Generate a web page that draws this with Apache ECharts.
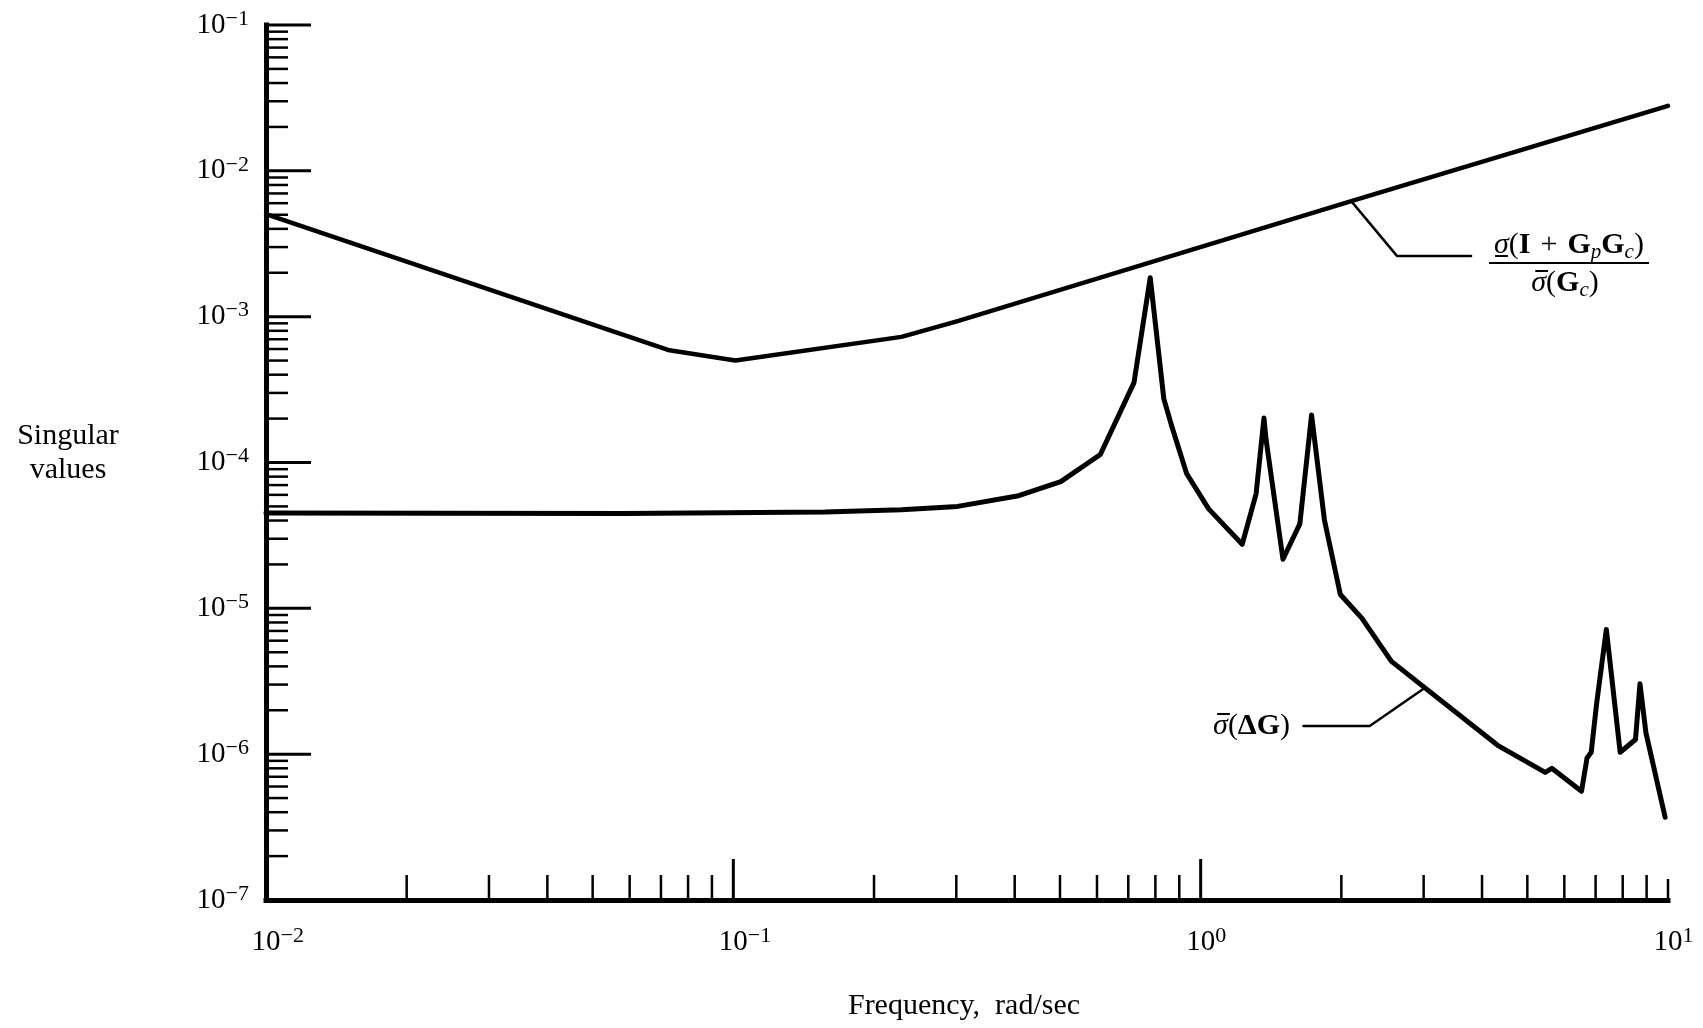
<!DOCTYPE html>
<html>
<head>
<meta charset="utf-8">
<script src="https://cdn.jsdelivr.net/npm/echarts@6/dist/echarts.min.js"></script>
<style>
html,body{margin:0;padding:0;background:#fff;}
#c{width:1703px;height:1028px;}
</style>
</head>
<body>
<div id="c"></div>
<script>
// ---------- data ----------
// upper curve: sigma_min(I + Gp Gc) / sigma_max(Gc)
const freqUpper  = [0.01, 0.073, 0.101, 0.229, 0.302, 2.1, 10];
const sigmaUpper = [5.05e-3, 5.88e-4, 5.0e-4, 7.27e-4, 9.33e-4, 6.2e-3, 2.79e-2];

// lower curve: sigma_max(Delta G)
const freqLower  = [0.01, 0.0584, 0.157, 0.229, 0.302, 0.405, 0.502, 0.61, 0.72, 0.78,
                    0.834, 0.867, 0.933, 1.04, 1.227, 1.314, 1.366, 1.38, 1.50, 1.63,
                    1.727, 1.84, 1.99, 2.21, 2.56, 4.32, 5.46, 5.64, 6.53, 6.71,
                    6.85, 7.03, 7.38, 7.90, 8.52, 8.71, 8.97, 9.86];
const sigmaLower = [4.5e-5, 4.47e-5, 4.58e-5, 4.75e-5, 5.0e-5, 5.89e-5, 7.39e-5, 1.135e-4, 3.53e-4, 1.85e-3,
                    2.73e-4, 1.78e-4, 8.4e-5, 4.81e-5, 2.75e-5, 6.1e-5, 2.02e-4, 1.44e-4, 2.17e-5, 3.79e-5,
                    2.12e-4, 4.04e-5, 1.245e-5, 8.6e-6, 4.33e-6, 1.15e-6, 7.5e-7, 8.0e-7, 5.56e-7, 9.4e-7,
                    1.03e-6, 2.18e-6, 7.17e-6, 1.03e-6, 1.26e-6, 3.04e-6, 1.40e-6, 3.69e-7];

// leader lines (curve point, elbow, end)
const upperLeaderF = [2.1, 2.63, 3.79];
const upperLeaderS = [6.2e-3, 2.61e-3, 2.61e-3];
const lowerLeaderF = [3.02, 2.30, 1.66];
const lowerLeaderS = [2.85e-6, 1.56e-6, 1.56e-6];

// axes
const xMin = 0.01, xMax = 10;
const yMin = 1e-7, yMax = 1e-1;
const xDecades = [0.01, 0.1, 1];
const yDecades = [1e-7, 1e-6, 1e-5, 1e-4, 1e-3, 1e-2];
const minorMultipliers = [2, 3, 4, 5, 6, 7, 8, 9];
const xMajorTicks = [0.1, 1];
const xEndTicks = [10];
const yMajorTicks = [1e-6, 1e-5, 1e-4, 1e-3, 1e-2, 1e-1];

// texts
const yTitle = 'Singular\nvalues';
const xTitle = 'Frequency,  rad/sec';
const numeratorTokens = [['i', '\u03c3'], ['r', '('], ['b', 'I'], ['r', '\u2004+\u2004'], ['b', 'G'], ['sb', 'p'], ['b', 'G'], ['sb', 'c'], ['r', ')']];
const denominatorTokens = [['i', '\u03c3'], ['r', '('], ['b', 'G'], ['sb', 'c'], ['r', ')']];
const lowerLabelTokens = [['i', '\u03c3'], ['r', '('], ['b', '\u0394G'], ['r', ')']];

const xMinorTicks = [];
xDecades.forEach(d => minorMultipliers.forEach(m => xMinorTicks.push(d * m)));
const yMinorTicks = [];
yDecades.forEach(d => minorMultipliers.forEach(m => yMinorTicks.push(d * m)));

// ---------- styling ----------
const FONT = "'Liberation Serif','DejaVu Serif','Times New Roman',serif";
const INK = '#000';

const expStr = v => {
  const e = Math.round(Math.log10(v));
  return e < 0 ? '\u2212' + (-e) : String(e);
};

const labelRich = {
  b: {fontFamily: FONT, fontSize: 29, lineHeight: 34, color: INK},
  s: {fontFamily: FONT, fontSize: 22, lineHeight: 24, verticalAlign: 'top', color: INK},
  h: {fontFamily: FONT, fontSize: 22, lineHeight: 24, verticalAlign: 'top', color: 'rgba(0,0,0,0)'}
};

function tickSeries(values, axis, len, width) {
  return {
    type: 'custom',
    silent: true,
    clip: false,
    z: 3,
    data: values.map(v => axis === 'x' ? [v, yMin] : [xMin, v]),
    renderItem: function (params, api) {
      const p = api.coord([api.value(0), api.value(1)]);
      const shape = axis === 'x'
        ? {x1: p[0], y1: p[1], x2: p[0], y2: p[1] - len}
        : {x1: p[0], y1: p[1], x2: p[0] + len, y2: p[1]};
      return {type: 'line', shape: shape, style: {stroke: INK, lineWidth: width, lineCap: 'butt'}};
    }
  };
}

function curve(fs, ss, width) {
  return {
    type: 'line',
    data: fs.map((f, i) => [f, ss[i]]),
    showSymbol: false,
    symbol: 'none',
    silent: true,
    z: 4,
    lineStyle: {color: INK, width: width, cap: 'round', join: 'round'}
  };
}

// annotation typography
const ANN = 30, SUB = 21;
const annFonts = {
  i: 'italic ' + ANN + 'px ' + FONT,
  r: ANN + 'px ' + FONT,
  b: 'bold ' + ANN + 'px ' + FONT,
  sb: 'italic ' + SUB + 'px ' + FONT
};
const annRich = {
  i: {fontFamily: FONT, fontSize: ANN, fontStyle: 'italic', lineHeight: 36, color: INK},
  r: {fontFamily: FONT, fontSize: ANN, lineHeight: 36, color: INK},
  b: {fontFamily: FONT, fontSize: ANN, fontWeight: 'bold', lineHeight: 36, color: INK},
  sb: {fontFamily: FONT, fontSize: SUB, fontStyle: 'italic', lineHeight: 20, verticalAlign: 'bottom', color: INK}
};
const mctx = document.createElement('canvas').getContext('2d');
function tokWidth(t) { mctx.font = annFonts[t[0]]; return mctx.measureText(t[1]).width; }
function richStr(tokens) { return tokens.map(t => '{' + t[0] + '|' + t[1] + '}').join(''); }
function totalWidth(tokens) { return tokens.reduce((s, t) => s + tokWidth(t), 0); }

// builds text + bar over/under the first glyph (sigma)
function annotation(tokens, anchorX, cy, anchor, barDy) {
  const W = totalWidth(tokens);
  const x0 = anchor === 'center' ? anchorX - W / 2 : (anchor === 'right' ? anchorX - W : anchorX);
  const wSig = tokWidth(tokens[0]);
  const slant = barDy < 0 ? 3 : 0;
  return [
    {type: 'text', x: x0, y: cy, silent: true,
     style: {text: richStr(tokens), rich: annRich, align: 'left', verticalAlign: 'middle'}},
    {type: 'line', silent: true,
     shape: {x1: x0 + 1 + slant, y1: cy + barDy, x2: x0 + wSig - 1 + slant, y2: cy + barDy},
     style: {stroke: INK, lineWidth: 2}}
  ];
}

const graphics = [
  {type: 'text', x: 68, y: 453, silent: true,
   style: {text: yTitle, font: '30px ' + FONT, align: 'center', verticalAlign: 'middle', lineHeight: 34, fill: INK}},
  {type: 'text', x: 964, y: 1006, silent: true,
   style: {text: xTitle, font: '30px ' + FONT, align: 'center', verticalAlign: 'middle', fill: INK}},
  {type: 'line', silent: true, shape: {x1: 1489, y1: 263, x2: 1649, y2: 263}, style: {stroke: INK, lineWidth: 2}}
]
  .concat(annotation(numeratorTokens, 1569, 245, 'center', 11))
  .concat(annotation(denominatorTokens, 1565, 283, 'center', -12))
  .concat(annotation(lowerLabelTokens, 1290, 726, 'right', -12));

const chart = echarts.init(document.getElementById('c'), null, {renderer: 'canvas'});

chart.setOption({
  animation: false,
  backgroundColor: '#fff',
  grid: {left: 266, top: 25, width: 1402, height: 875, containLabel: false},
  xAxis: {
    type: 'log', logBase: 10, min: xMin, max: xMax,
    axisLine: {show: true, lineStyle: {color: INK, width: 5, cap: 'square'}},
    axisTick: {show: false},
    splitLine: {show: false},
    minorTick: {show: false},
    axisLabel: {
      margin: 25,
      formatter: v => '{h|' + expStr(v) + '}{b|10}{s|' + expStr(v) + '}',
      rich: labelRich
    }
  },
  yAxis: {
    type: 'log', logBase: 10, min: yMin, max: yMax,
    axisLine: {show: true, lineStyle: {color: INK, width: 5, cap: 'square'}},
    axisTick: {show: false},
    splitLine: {show: false},
    minorTick: {show: false},
    axisLabel: {
      margin: 17,
      formatter: v => '{b|10}{s|' + expStr(v) + '}',
      rich: labelRich
    }
  },
  series: [
    tickSeries(xMinorTicks, 'x', 25, 2.5),
    tickSeries(xMajorTicks, 'x', 41, 3),
    tickSeries(xEndTicks, 'x', 21, 2.5),
    tickSeries(yMinorTicks, 'y', 22, 2.5),
    tickSeries(yMajorTicks, 'y', 45, 3),
    curve(freqUpper, sigmaUpper, 4.5),
    curve(freqLower, sigmaLower, 5),
    curve(upperLeaderF, upperLeaderS, 2.5),
    curve(lowerLeaderF, lowerLeaderS, 2.5)
  ],
  graphic: graphics
});
</script>
</body>
</html>
